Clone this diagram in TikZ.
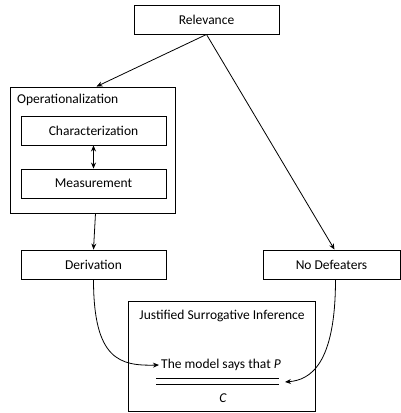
\documentclass[tikz,border=0pt]{standalone}
\usepackage{fontspec}
\setmainfont{Carlito}
\usetikzlibrary{arrows.meta,calc}
\begin{document}
\begin{tikzpicture}[x=1pt,y=-1pt,
  box/.style={draw,line width=0.9pt,minimum width=145pt,minimum height=29pt,inner sep=0pt,font=\fontsize{13.5}{16}\selectfont},
  tip/.tip={Stealth[length=6pt,width=5pt]},
  arr/.style={-tip,line width=0.8pt},
  txt/.style={font=\fontsize{13.5}{16}\selectfont,inner sep=0pt}]
\useasboundingbox (0,0) rectangle (400,413);
\node[box] (rel) at (206.5,19.5) {Relevance};
\node[box,minimum width=165pt,minimum height=126pt] (op) at (92.5,150) {};
\node[txt,anchor=west] (oplabel) at (17,100) {Operationalization};
\node[box] (char) at (93.5,130.5) {Characterization};
\node[box] (meas) at (93.5,183.5) {Measurement};
\node[box] (deriv) at (93.5,264.5) {Derivation};
\node[box,minimum width=137pt] (nodef) at (331.5,264.5) {No Defeaters};
\node[box,minimum width=187pt,minimum height=110pt] (jsi) at (221.5,356) {};
\node[txt] (jsilabel) at (222,316) {Justified Surrogative Inference};
\node[txt] (model) at (221,365) {The model says that \textit{P}};
\node[txt] (c) at (223,398) {\textit{C}};
\coordinate (l1a) at (156,378); \coordinate (l1b) at (279,378);
\coordinate (l2a) at (156,384); \coordinate (l2b) at (279,384);
\draw[line width=0.6pt] (l1a) -- (l1b);
\draw[line width=0.6pt] (l2a) -- (l2b);
\coordinate (target) at (285,382);
\draw[arr] (rel.south) -- ($(op.north)+(4,0)$);
\draw[arr] (rel.south) -- ($(nodef.north)+(3,0)$);
\draw[arr,tip-tip] (char.south) -- (meas.north);
\draw[arr] ($(op.south)+(3,0)$) -- (deriv.north);
\draw[arr] (deriv.south) .. controls (93.5,360) and (120,366) .. ($(model.west)+(-2,0)$);
\draw[arr] ($(nodef.south)+(4,0)$) .. controls (335.5,365) and (310,380) .. (target);
\end{tikzpicture}
\end{document}
